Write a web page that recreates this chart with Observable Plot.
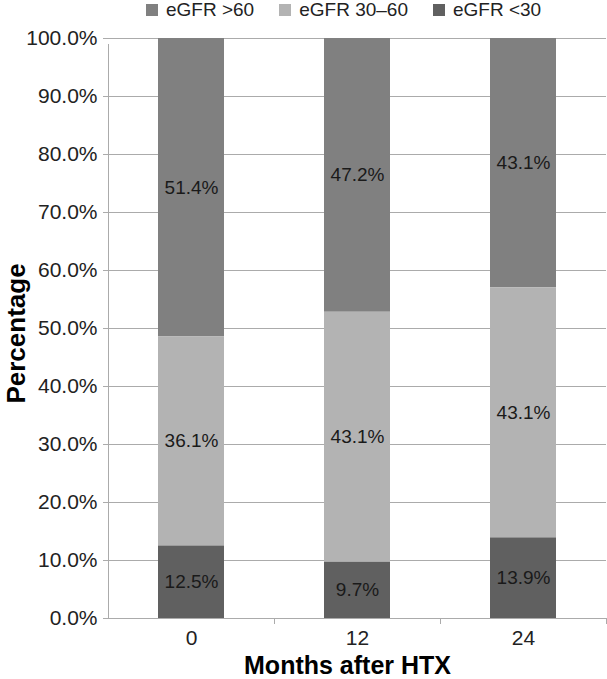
<!DOCTYPE html>
<html><head><meta charset="utf-8">
<script src="https://cdn.jsdelivr.net/npm/d3@7"></script>
<script src="https://cdn.jsdelivr.net/npm/@observablehq/plot@0.6"></script>
<style>
body{margin:0;background:#fff;font-family:"Liberation Sans",Arial,sans-serif;}
#legend{display:flex;align-items:center;height:20px;width:607px;padding-left:146px;box-sizing:border-box;font-size:19px;color:#222;}
.item{display:flex;align-items:center;margin-right:25px;white-space:nowrap;}
.sw{width:12px;height:12px;margin-right:8px;}
#chart svg{display:block;}
</style></head><body>
<div id="legend"></div>
<div id="chart"></div>
<script>
const months = ["0", "12", "24"];
const groups = ["eGFR >60", "eGFR 30–60", "eGFR <30"];
const egfrAbove60 = [51.4, 47.2, 43.1];
const egfr30to60 = [36.1, 43.1, 43.1];
const egfrBelow30 = [12.5, 9.7, 13.9];
const yTicks = [0, 10, 20, 30, 40, 50, 60, 70, 80, 90, 100];
const groupColors = ["#808080", "#b3b3b3", "#606060"];
const stackOrder = ["eGFR <30", "eGFR 30–60", "eGFR >60"];

const seriesValues = [egfrAbove60, egfr30to60, egfrBelow30];
const data = [];
groups.forEach((g, gi) => months.forEach((m, mi) => data.push({month: m, group: g, value: seriesValues[gi][mi]})));

// legend
const legend = document.getElementById("legend");
groups.forEach((g, i) => {
  const it = document.createElement("div"); it.className = "item";
  const sw = document.createElement("span"); sw.className = "sw"; sw.style.background = groupColors[i];
  const tx = document.createElement("span"); tx.textContent = g;
  it.appendChild(sw); it.appendChild(tx); legend.appendChild(it);
});

const W = 607, H = 659, ML = 108, MR = 1;
const half = (W - ML - MR) / months.length / 2;
const boundaries = [
  ...months.map(m => ({month: m, dx: -half, top: m === months[0] ? 100 : 0})),
  {month: months[months.length - 1], dx: half, top: 0}
];

const chart = Plot.plot({
  width: W, height: H,
  marginLeft: ML, marginRight: MR, marginTop: 18, marginBottom: 61,
  style: {fontFamily: "Liberation Sans, Arial, sans-serif", color: "#222", background: "#fff"},
  x: {domain: months, paddingInner: 0.6, paddingOuter: 0.3, label: null},
  y: {domain: [0, 100], label: null, clamp: true},
  color: {domain: groups, range: groupColors},
  marks: [
    Plot.ruleY(yTicks, {y: d => d, stroke: "#ababab", strokeWidth: 1}),
    Plot.axisY(yTicks, {tickSize: 5, tickPadding: 6, stroke: "#ababab", fontSize: 21, fill: "#222", tickFormat: d => d.toFixed(1) + "%", label: null}),
    Plot.axisX({tickSize: 0, tickPadding: 12, fontSize: 21, fill: "#222", label: null}),
    ...boundaries.map(b => Plot.ruleX([b], {x: "month", dx: b.dx, y1: 0, y2: b.top, insetBottom: -6, stroke: "#ababab", strokeWidth: 1})),
    Plot.barY(data, Plot.stackY({x: "month", y: "value", z: "group", fill: "group", order: stackOrder})),
    Plot.text(data, Plot.stackY({x: "month", y: "value", z: "group", order: stackOrder, text: d => d.value.toFixed(1) + "%", fontSize: 19, fill: "#1a1a1a"})),
    Plot.text(["Months after HTX"], {frameAnchor: "bottom", lineAnchor: "middle", textAnchor: "middle", dx: -10, dy: 47.5, fontSize: 25, fontWeight: "bold", fill: "#000"}),
    Plot.text(["Percentage"], {frameAnchor: "left", lineAnchor: "middle", textAnchor: "middle", dx: -92, dy: 5, rotate: -90, fontSize: 26, fontWeight: "bold", fill: "#000"})
  ]
});
document.getElementById("chart").appendChild(chart);
</script>
</body></html>
